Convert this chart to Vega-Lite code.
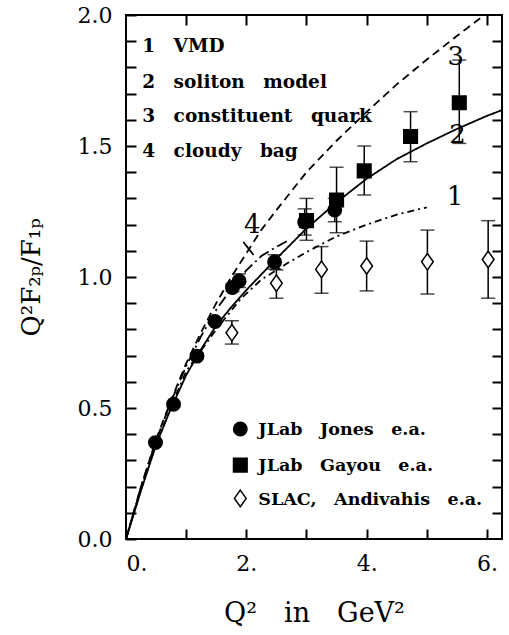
{
  "$schema": "https://vega.github.io/schema/vega-lite/v6.json",
  "width": 376,
  "height": 524,
  "autosize": "none",
  "padding": {"left": 126, "top": 15, "right": 7, "bottom": 96},
  "background": "white",
  "config": {
    "view": {"stroke": "black", "strokeWidth": 2},
    "axis": {"domain": false, "grid": false, "labelColor": "black", "titleColor": "black", "labelFont": "DejaVu Serif", "labelFontSize": 22, "titleFont": "DejaVu Serif", "titleFontWeight": "normal"}
  },
  "datasets": {
    "curveData": [
      {"curve": "1", "x": 0, "y": 0}, {"curve": "1", "x": 0.25, "y": 0.19}, {"curve": "1", "x": 0.5, "y": 0.36}, {"curve": "1", "x": 0.75, "y": 0.505}, {"curve": "1", "x": 1.0, "y": 0.64}, {"curve": "1", "x": 1.5, "y": 0.8}, {"curve": "1", "x": 1.9, "y": 0.915}, {"curve": "1", "x": 2.25, "y": 0.99}, {"curve": "1", "x": 2.7, "y": 1.055}, {"curve": "1", "x": 3.0, "y": 1.095}, {"curve": "1", "x": 3.5, "y": 1.155}, {"curve": "1", "x": 4.0, "y": 1.2}, {"curve": "1", "x": 4.5, "y": 1.238}, {"curve": "1", "x": 5.0, "y": 1.266},
      {"curve": "2", "x": 0, "y": 0}, {"curve": "2", "x": 0.25, "y": 0.185}, {"curve": "2", "x": 0.5, "y": 0.36}, {"curve": "2", "x": 0.75, "y": 0.5}, {"curve": "2", "x": 1.0, "y": 0.625}, {"curve": "2", "x": 1.25, "y": 0.725}, {"curve": "2", "x": 1.5, "y": 0.815}, {"curve": "2", "x": 1.75, "y": 0.885}, {"curve": "2", "x": 2.0, "y": 0.95}, {"curve": "2", "x": 2.5, "y": 1.07}, {"curve": "2", "x": 3.0, "y": 1.185}, {"curve": "2", "x": 3.5, "y": 1.285}, {"curve": "2", "x": 4.0, "y": 1.375}, {"curve": "2", "x": 4.5, "y": 1.45}, {"curve": "2", "x": 5.0, "y": 1.51}, {"curve": "2", "x": 5.5, "y": 1.565}, {"curve": "2", "x": 6.0, "y": 1.615}, {"curve": "2", "x": 6.25, "y": 1.637},
      {"curve": "3", "x": 0, "y": 0}, {"curve": "3", "x": 0.25, "y": 0.2}, {"curve": "3", "x": 0.5, "y": 0.38}, {"curve": "3", "x": 0.75, "y": 0.53}, {"curve": "3", "x": 1.0, "y": 0.67}, {"curve": "3", "x": 1.25, "y": 0.79}, {"curve": "3", "x": 1.5, "y": 0.9}, {"curve": "3", "x": 1.75, "y": 1.0}, {"curve": "3", "x": 2.0, "y": 1.09}, {"curve": "3", "x": 2.25, "y": 1.18}, {"curve": "3", "x": 2.5, "y": 1.255}, {"curve": "3", "x": 3.0, "y": 1.4}, {"curve": "3", "x": 3.5, "y": 1.52}, {"curve": "3", "x": 4.0, "y": 1.63}, {"curve": "3", "x": 4.5, "y": 1.735}, {"curve": "3", "x": 5.0, "y": 1.83}, {"curve": "3", "x": 5.5, "y": 1.92}, {"curve": "3", "x": 5.9, "y": 1.99},
      {"curve": "4", "x": 0, "y": 0}, {"curve": "4", "x": 0.25, "y": 0.2}, {"curve": "4", "x": 0.5, "y": 0.375}, {"curve": "4", "x": 0.75, "y": 0.525}, {"curve": "4", "x": 1.0, "y": 0.66}, {"curve": "4", "x": 1.25, "y": 0.775}, {"curve": "4", "x": 1.5, "y": 0.875}, {"curve": "4", "x": 1.75, "y": 0.955}, {"curve": "4", "x": 2.0, "y": 1.025}, {"curve": "4", "x": 2.25, "y": 1.08}, {"curve": "4", "x": 2.5, "y": 1.115}, {"curve": "4", "x": 2.7, "y": 1.14},
      {"curve": "p", "x": 1.95, "y": 1.134}, {"curve": "p", "x": 2.12, "y": 1.084}
    ],
    "pointData": [
      {"series": "Jones", "x": 0.49, "y": 0.368, "lo": 0.36, "hi": 0.376},
      {"series": "Jones", "x": 0.79, "y": 0.514, "lo": 0.505, "hi": 0.523},
      {"series": "Jones", "x": 1.18, "y": 0.698, "lo": 0.688, "hi": 0.708},
      {"series": "Jones", "x": 1.48, "y": 0.83, "lo": 0.82, "hi": 0.84},
      {"series": "Jones", "x": 1.77, "y": 0.96, "lo": 0.945, "hi": 0.975},
      {"series": "Jones", "x": 1.88, "y": 0.985, "lo": 0.96, "hi": 1.012},
      {"series": "Jones", "x": 2.47, "y": 1.057, "lo": 1.03, "hi": 1.085},
      {"series": "Jones", "x": 2.97, "y": 1.21, "lo": 1.16, "hi": 1.26},
      {"series": "Jones", "x": 3.47, "y": 1.256, "lo": 1.211, "hi": 1.3},
      {"series": "Gayou", "x": 3.0, "y": 1.215, "lo": 1.14, "hi": 1.3},
      {"series": "Gayou", "x": 3.5, "y": 1.294, "lo": 1.169, "hi": 1.419},
      {"series": "Gayou", "x": 3.96, "y": 1.405, "lo": 1.313, "hi": 1.5},
      {"series": "Gayou", "x": 4.73, "y": 1.536, "lo": 1.44, "hi": 1.631},
      {"series": "Gayou", "x": 5.54, "y": 1.665, "lo": 1.51, "hi": 1.828},
      {"series": "SLAC", "x": 1.76, "y": 0.787, "lo": 0.744, "hi": 0.833},
      {"series": "SLAC", "x": 2.5, "y": 0.976, "lo": 0.919, "hi": 1.027},
      {"series": "SLAC", "x": 3.25, "y": 1.029, "lo": 0.938, "hi": 1.116},
      {"series": "SLAC", "x": 4.0, "y": 1.042, "lo": 0.947, "hi": 1.137},
      {"series": "SLAC", "x": 5.01, "y": 1.058, "lo": 0.935, "hi": 1.179},
      {"series": "SLAC", "x": 6.02, "y": 1.067, "lo": 0.919, "hi": 1.215}
    ],
    "keyData": [
      {"series": "Jones", "x": 1.9, "y": 0.42, "tx": 2.2, "ty": 0.397, "label": "JLab\u2003Jones\u2003e.a."},
      {"series": "Gayou", "x": 1.9, "y": 0.282, "tx": 2.2, "ty": 0.261, "label": "JLab\u2003Gayou\u2003e.a."},
      {"series": "SLAC", "x": 1.9, "y": 0.155, "tx": 2.2, "ty": 0.13, "label": "SLAC,\u2003Andivahis\u2003e.a."}
    ],
    "modelData": [
      {"x": 0.27, "y": 1.86, "label": "1\u2003VMD"},
      {"x": 0.27, "y": 1.72, "label": "2\u2003soliton\u2003model"},
      {"x": 0.27, "y": 1.593, "label": "3\u2003constituent\u2003quark"},
      {"x": 0.27, "y": 1.459, "label": "4\u2003cloudy\u2003bag"}
    ],
    "curveLabelData": [
      {"x": 5.48, "y": 1.809, "label": "3"},
      {"x": 5.51, "y": 1.513, "label": "2"},
      {"x": 5.47, "y": 1.275, "label": "1"},
      {"x": 2.1, "y": 1.167, "label": "4"}
    ]
  },
  "resolve": {"axis": {"x": "independent", "y": "independent"}},
  "layer": [
    {
      "data": {"name": "curveData"},
      "mark": {"type": "line", "color": "black", "strokeWidth": 1.8},
      "encoding": {
        "x": {"field": "x", "type": "quantitative", "scale": {"domain": [0, 6.25], "nice": false, "zero": false},
          "axis": {"orient": "bottom", "values": [0, 1, 2, 3, 4, 5, 6], "labelExpr": "datum.value % 2 == 0 ? datum.value + '.' : ''", "ticks": true, "tickSize": -10, "tickColor": "black", "tickWidth": 2, "labelPadding": 24, "title": "Q²\u2003in\u2003GeV²", "titleFontSize": 27, "titlePadding": 26}},
        "y": {"field": "y", "type": "quantitative", "scale": {"domain": [0, 2], "nice": false, "zero": false},
          "axis": {"orient": "left", "values": [0, 0.1, 0.2, 0.3, 0.4, 0.5, 0.6, 0.7, 0.8, 0.9, 1, 1.1, 1.2, 1.3, 1.4, 1.5, 1.6, 1.7, 1.8, 1.9, 2], "labelExpr": "abs(datum.value * 2 - round(datum.value * 2)) < 0.001 ? format(datum.value, '.1f') : ''", "ticks": true, "tickSize": -10, "tickColor": "black", "tickWidth": 2, "labelPadding": 24, "title": "Q²F₂ₚ/F₁ₚ", "titleFontSize": 26, "titlePadding": 33}},
        "strokeDash": {"field": "curve", "type": "nominal", "legend": null,
          "scale": {"domain": ["1", "2", "3", "4", "p"], "range": [[7, 4, 2, 4], [1, 0], [8, 5], [11, 4, 2, 4], [1, 0]]}}
      }
    },
    {
      "data": {"name": "pointData"},
      "mark": {"type": "rule", "color": "black", "strokeWidth": 1.5},
      "encoding": {
        "x": {"field": "x", "type": "quantitative", "scale": {"domain": [0, 6.25], "nice": false, "zero": false}, "axis": null},
        "y": {"field": "lo", "type": "quantitative", "scale": {"domain": [0, 2], "nice": false, "zero": false}, "axis": null},
        "y2": {"field": "hi"}
      }
    },
    {
      "data": {"name": "pointData"},
      "mark": {"type": "tick", "color": "black", "orient": "horizontal", "size": 14, "thickness": 1.5},
      "encoding": {
        "x": {"field": "x", "type": "quantitative", "scale": {"domain": [0, 6.25], "nice": false, "zero": false}, "axis": null},
        "y": {"field": "lo", "type": "quantitative", "scale": {"domain": [0, 2], "nice": false, "zero": false}, "axis": null}
      }
    },
    {
      "data": {"name": "pointData"},
      "mark": {"type": "tick", "color": "black", "orient": "horizontal", "size": 14, "thickness": 1.5},
      "encoding": {
        "x": {"field": "x", "type": "quantitative", "scale": {"domain": [0, 6.25], "nice": false, "zero": false}, "axis": null},
        "y": {"field": "hi", "type": "quantitative", "scale": {"domain": [0, 2], "nice": false, "zero": false}, "axis": null}
      }
    },
    {
      "data": {"name": "pointData"},
      "mark": {"type": "point", "filled": false, "strokeWidth": 1.5, "opacity": 1, "stroke": "black"},
      "encoding": {
        "x": {"field": "x", "type": "quantitative", "scale": {"domain": [0, 6.25], "nice": false, "zero": false},
          "axis": {"orient": "top", "values": [1, 2, 3, 4, 5, 6], "labels": false, "ticks": true, "tickSize": 10, "offset": -10, "tickColor": "black", "tickWidth": 2, "title": null}},
        "y": {"field": "y", "type": "quantitative", "scale": {"domain": [0, 2], "nice": false, "zero": false},
          "axis": {"orient": "right", "values": [0.1, 0.2, 0.3, 0.4, 0.5, 0.6, 0.7, 0.8, 0.9, 1, 1.1, 1.2, 1.3, 1.4, 1.5, 1.6, 1.7, 1.8, 1.9], "labels": false, "ticks": true, "tickSize": 10, "offset": -10, "tickColor": "black", "tickWidth": 2, "title": null}},
        "shape": {"field": "series", "type": "nominal", "legend": null,
          "scale": {"domain": ["Jones", "Gayou", "SLAC"], "range": ["circle", "square", "M0,-1.2L0.85,0L0,1.2L-0.85,0Z"]}},
        "fill": {"field": "series", "type": "nominal", "legend": null,
          "scale": {"domain": ["Jones", "Gayou", "SLAC"], "range": ["black", "black", "white"]}},
        "size": {"field": "series", "type": "nominal", "legend": null,
          "scale": {"domain": ["Jones", "Gayou", "SLAC"], "range": [180, 190, 144]}}
      }
    },
    {
      "data": {"name": "keyData"},
      "mark": {"type": "point", "filled": false, "strokeWidth": 1.5, "opacity": 1, "stroke": "black"},
      "encoding": {
        "x": {"field": "x", "type": "quantitative", "scale": {"domain": [0, 6.25], "nice": false, "zero": false}, "axis": null},
        "y": {"field": "y", "type": "quantitative", "scale": {"domain": [0, 2], "nice": false, "zero": false}, "axis": null},
        "shape": {"field": "series", "type": "nominal", "legend": null,
          "scale": {"domain": ["Jones", "Gayou", "SLAC"], "range": ["circle", "square", "M0,-1.2L0.85,0L0,1.2L-0.85,0Z"]}},
        "fill": {"field": "series", "type": "nominal", "legend": null,
          "scale": {"domain": ["Jones", "Gayou", "SLAC"], "range": ["black", "black", "white"]}},
        "size": {"field": "series", "type": "nominal", "legend": null,
          "scale": {"domain": ["Jones", "Gayou", "SLAC"], "range": [180, 150, 260]}}
      }
    },
    {
      "data": {"name": "keyData"},
      "mark": {"type": "text", "align": "left", "baseline": "alphabetic", "font": "DejaVu Serif", "fontWeight": "bold", "fontSize": 17.5, "color": "black"},
      "encoding": {
        "x": {"field": "tx", "type": "quantitative", "scale": {"domain": [0, 6.25], "nice": false, "zero": false}, "axis": null},
        "y": {"field": "ty", "type": "quantitative", "scale": {"domain": [0, 2], "nice": false, "zero": false}, "axis": null},
        "text": {"field": "label"}
      }
    },
    {
      "data": {"name": "modelData"},
      "mark": {"type": "text", "align": "left", "baseline": "alphabetic", "font": "DejaVu Serif", "fontWeight": "bold", "fontSize": 18.5, "color": "black"},
      "encoding": {
        "x": {"field": "x", "type": "quantitative", "scale": {"domain": [0, 6.25], "nice": false, "zero": false}, "axis": null},
        "y": {"field": "y", "type": "quantitative", "scale": {"domain": [0, 2], "nice": false, "zero": false}, "axis": null},
        "text": {"field": "label"}
      }
    },
    {
      "data": {"name": "curveLabelData"},
      "mark": {"type": "text", "align": "center", "baseline": "alphabetic", "font": "DejaVu Serif", "fontSize": 26, "color": "black"},
      "encoding": {
        "x": {"field": "x", "type": "quantitative", "scale": {"domain": [0, 6.25], "nice": false, "zero": false}, "axis": null},
        "y": {"field": "y", "type": "quantitative", "scale": {"domain": [0, 2], "nice": false, "zero": false}, "axis": null},
        "text": {"field": "label"}
      }
    }
  ]
}
